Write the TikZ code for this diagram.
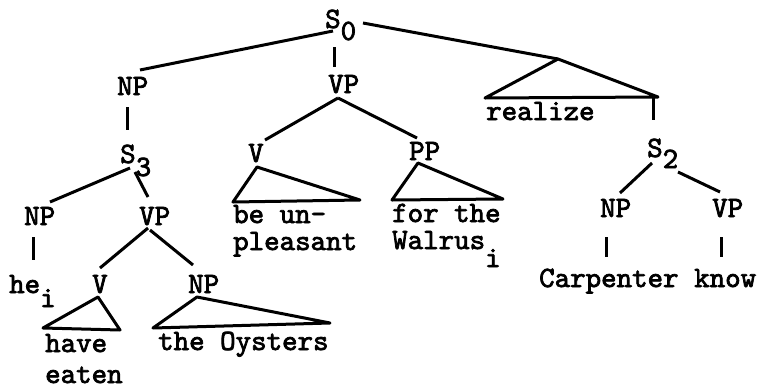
\documentclass[tikz,border=0pt]{standalone}
\usepackage{fontspec}
\newfontfamily\tw{lmmono10-regular.otf}[FakeBold=2.5]
\newcommand\lowr[2][13pt]{\raisebox{-#1}{#2}}
\begin{document}
\begin{tikzpicture}[x=1pt,y=-1pt,
  lbl/.style={anchor=base west,inner sep=0pt,font={\tw\fontsize{29.5}{27}\selectfont}},
  edge/.style={line width=3pt,line join=round}]
\useasboundingbox (0,0) rectangle (761,389);
% nodes
\node[lbl] (s0) at (325,28) {S\lowr[12pt]{0}};
\node[lbl] (np1) at (117,95) {NP};
\node[lbl] (vp1) at (328,93) {VP};
\coordinate (adj) at (558,59);
\node[lbl] (s3) at (120,163) {S\lowr{3}};
\node[lbl] (v1) at (248,162) {V};
\node[lbl] (pp) at (409,160) {PP};
\node[lbl] (realize) at (486,120) {realize};
\node[lbl] (s2) at (647,157) {S\lowr[11pt]{2}};
\node[lbl] (np2) at (24,225) {NP};
\node[lbl] (vp2) at (139,225) {VP};
\node[lbl] (beun) at (233,223) {\begin{tabular}[t]{@{}l@{}}be un-\\pleasant\end{tabular}};
\node[lbl] (forthe) at (392,222) {\begin{tabular}[t]{@{}l@{}}for the\\Walrus\lowr[18pt]{i}\end{tabular}};
\node[lbl] (np4) at (600,217) {NP};
\node[lbl] (vp4) at (712,217) {VP};
\node[lbl] (he) at (9,293) {he\lowr[14pt]{i}};
\node[lbl] (v2) at (92,293) {V};
\node[lbl] (np3) at (188,293) {NP};
\node[lbl] (carp) at (539,287) {Carpenter};
\node[lbl] (know) at (694,287) {know};
\node[lbl] (have) at (45,352) {\begin{tabular}[t]{@{}l@{}}have\\[4pt]eaten\end{tabular}};
\node[lbl] (oys) at (158,350) {the Oysters};
% connectors
\draw[edge] ([shift={(8,3)}]s0.base west) -- ([shift={(23,-25)}]np1.base west);
\draw[edge] ([shift={(9,19)}]s0.base west) -- ([shift={(6,-26)}]vp1.base west);
\draw[edge] ([shift={(38,-5)}]s0.base west) -- (adj);
\draw[edge] (adj) -- ([shift={(-1,-22)}]realize.base west) -- ([shift={(172,-23)}]realize.base west) coordinate (rc) -- cycle;
\draw[edge] ([xshift=-5]rc) -- ([shift={(6,-37)}]s2.base west);
\draw[edge] ([shift={(10,12)}]np1.base west) -- ([shift={(7,-33)}]s3.base west);
\draw[edge] ([shift={(10,5)}]vp1.base west) -- ([shift={(17,-22)}]v1.base west);
\draw[edge] ([shift={(10,5)}]vp1.base west) -- ([shift={(8,-22)}]pp.base west);
\draw[edge] ([shift={(9,5)}]v1.base west) -- ([shift={(0,-21)}]beun.base west) -- ([shift={(127,-23)}]beun.base west) -- cycle;
\draw[edge] ([shift={(9,3)}]pp.base west) -- ([shift={(0,-22)}]forthe.base west) -- ([shift={(111,-23)}]forthe.base west) -- cycle;
\draw[edge] ([shift={(10,5)}]s3.base west) -- ([shift={(26,-23)}]np2.base west);
\draw[edge] ([shift={(15,9)}]s3.base west) -- ([shift={(9,-28)}]vp2.base west);
\draw[edge] ([shift={(9,12)}]np2.base west) -- ([shift={(24,-33)}]he.base west);
\draw[edge] ([shift={(9,3)}]vp2.base west) -- ([shift={(8,-25)}]v2.base west);
\draw[edge] ([shift={(11,5)}]vp2.base west) -- ([shift={(5,-28)}]np3.base west);
\draw[edge] ([shift={(6,4)}]v2.base west) -- ([shift={(-2,-24)}]have.base west) -- ([shift={(75,-22)}]have.base west) -- cycle;
\draw[edge] ([shift={(9,4)}]np3.base west) -- ([shift={(-5,-22)}]oys.base west) -- ([shift={(172,-27)}]oys.base west) -- cycle;
\draw[edge] ([shift={(5,6)}]s2.base west) -- ([shift={(20,-24)}]np4.base west);
\draw[edge] ([shift={(31,15)}]s2.base west) -- ([shift={(8,-25)}]vp4.base west);
\draw[edge] ([shift={(6,20)}]np4.base west) -- ([shift={(67,-30)}]carp.base west);
\draw[edge] ([shift={(9,20)}]vp4.base west) -- ([shift={(27,-30)}]know.base west);
\end{tikzpicture}
\end{document}
